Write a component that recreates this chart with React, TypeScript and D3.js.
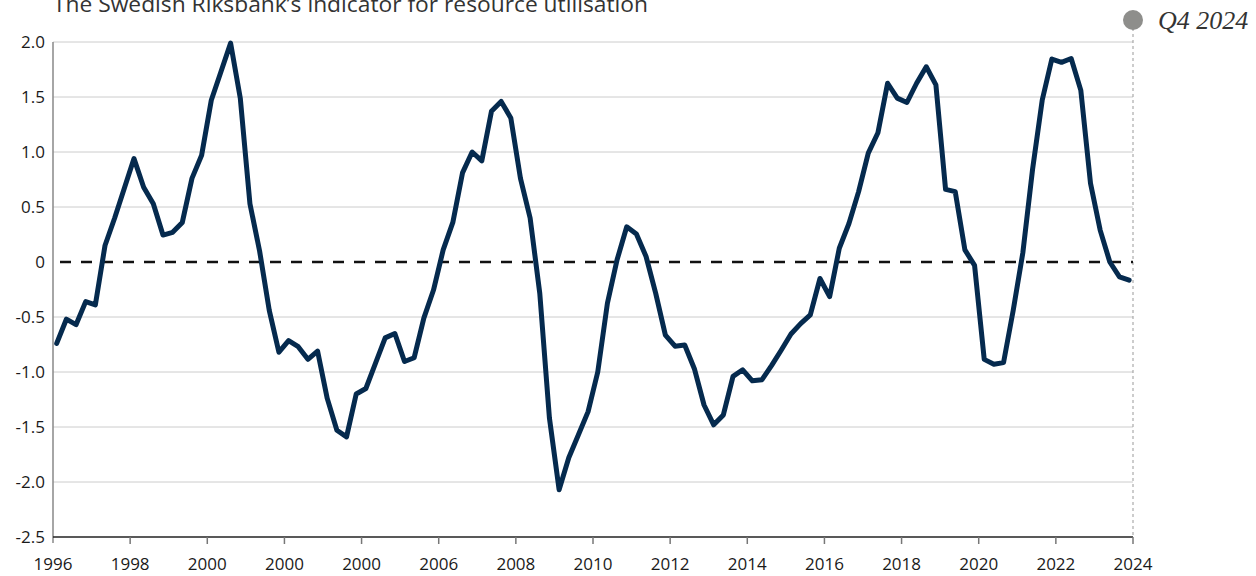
import React, { useEffect, useRef } from "react";
import * as d3 from "d3";

const TITLE = "The Swedish Riksbank’s indicator for resource utilisation";
const MARKER_LABEL = "Q4 2024";

// Quarterly values, first quarter 1996 onwards
const values: number[] = [
  -0.74, -0.52, -0.57, -0.36, -0.39, 0.15, 0.4, 0.67, 0.94, 0.68,
  0.53, 0.245, 0.27, 0.36, 0.76, 0.97, 1.47, 1.73, 1.99, 1.49,
  0.53, 0.1, -0.44, -0.82, -0.715, -0.77, -0.885, -0.81, -1.24, -1.53,
  -1.59, -1.2, -1.15, -0.92, -0.69, -0.65, -0.905, -0.87, -0.51, -0.255,
  0.11, 0.36, 0.81, 1.0, 0.92, 1.37, 1.46, 1.31, 0.76, 0.4,
  -0.285, -1.42, -2.07, -1.78, -1.57, -1.36, -1.0, -0.375, 0.02, 0.32,
  0.255, 0.05, -0.285, -0.665, -0.765, -0.755, -0.97, -1.3, -1.48, -1.39,
  -1.04, -0.98, -1.08, -1.07, -0.94, -0.8, -0.655, -0.56, -0.48, -0.15,
  -0.315, 0.125, 0.35, 0.64, 0.99, 1.175, 1.625, 1.49, 1.45, 1.625,
  1.775, 1.61, 0.66, 0.64, 0.11, -0.03, -0.885, -0.93, -0.915, -0.44,
  0.085, 0.84, 1.47, 1.845, 1.815, 1.85, 1.56, 0.715, 0.29, 0.0,
  -0.135, -0.165,
];

const xTickYears = [1996, 1998, 2000, 2002, 2004, 2006, 2008, 2010, 2012, 2014, 2016, 2018, 2020, 2022, 2024];
const xTickLabels = ["1996", "1998", "2000", "2000", "2000", "2006", "2008", "2010", "2012", "2014", "2016", "2018", "2020", "2022", "2024"];
const yTicks = [2.0, 1.5, 1.0, 0.5, 0, -0.5, -1.0, -1.5, -2.0, -2.5];
const yTickLabels = ["2.0", "1.5", "1.0", "0.5", "0", "-0.5", "-1.0", "-1.5", "-2.0", "-2.5"];

const W = 1256;
const H = 576;
const M = { left: 53, right: 1133, top: 42, bottom: 537 };
const FONT = "'Open Sans', 'Noto Sans', sans-serif";

export default function App() {
  const ref = useRef<SVGSVGElement | null>(null);

  useEffect(() => {
    const svg = d3.select(ref.current);
    svg.selectAll("*").remove();

    const x = d3.scaleLinear().domain([1996, 2024]).range([M.left, M.right]);
    const y = d3.scaleLinear().domain([-2.5, 2.0]).range([M.bottom, M.top]);
    const xi = d3
      .scaleLinear()
      .domain([0, values.length - 1])
      .range([x(1996.096), x(2023.9)]);

    // title
    svg
      .append("text")
      .attr("x", M.left)
      .attr("y", 12)
      .attr("font-family", FONT)
      .attr("font-size", 21)
      .attr("fill", "#333")
      .attr("textLength", 595)
      .attr("lengthAdjust", "spacingAndGlyphs")
      .text(TITLE);

    // gridlines
    svg
      .append("g")
      .selectAll("line")
      .data(yTicks.filter((t) => t !== 0 && t !== -2.5))
      .join("line")
      .attr("x1", M.left)
      .attr("x2", M.right)
      .attr("y1", (d) => y(d))
      .attr("y2", (d) => y(d))
      .attr("stroke", "#cccccc")
      .attr("stroke-width", 1);

    // vertical dashed marker line
    svg
      .append("line")
      .attr("x1", x(2024))
      .attr("x2", x(2024))
      .attr("y1", 28)
      .attr("y2", M.bottom)
      .attr("stroke", "#999")
      .attr("stroke-width", 1)
      .attr("stroke-dasharray", "3,3");

    // marker circle + label
    svg
      .append("circle")
      .attr("cx", x(2024))
      .attr("cy", 20)
      .attr("r", 10)
      .attr("fill", "#8e8e8b");
    svg
      .append("text")
      .attr("x", 1158)
      .attr("y", 29)
      .attr("font-family", "'Liberation Serif', 'DejaVu Serif', serif")
      .attr("font-style", "italic")
      .attr("font-size", 26)
      .attr("fill", "#333")
      .text(MARKER_LABEL);

    // y axis line
    svg
      .append("line")
      .attr("x1", M.left)
      .attr("x2", M.left)
      .attr("y1", M.top)
      .attr("y2", M.bottom + 6)
      .attr("stroke", "#888")
      .attr("stroke-width", 1.5);

    // y tick labels
    svg
      .append("g")
      .selectAll("text")
      .data(yTicks)
      .join("text")
      .attr("x", 45)
      .attr("y", (d) => y(d))
      .attr("dy", "0.35em")
      .attr("text-anchor", "end")
      .attr("font-family", FONT)
      .attr("font-size", 17)
      .attr("fill", "#1a1a1a")
      .text((_, i) => yTickLabels[i]);

    // zero line
    svg
      .append("line")
      .attr("x1", M.left + 7)
      .attr("x2", M.right)
      .attr("y1", y(0))
      .attr("y2", y(0))
      .attr("stroke", "#111")
      .attr("stroke-width", 2.5)
      .attr("stroke-dasharray", "11,10");

    // x axis
    svg
      .append("line")
      .attr("x1", M.left)
      .attr("x2", M.right)
      .attr("y1", M.bottom)
      .attr("y2", M.bottom)
      .attr("stroke", "#222")
      .attr("stroke-width", 1.5);

    svg
      .append("g")
      .selectAll("line")
      .data(xTickYears.slice(1))
      .join("line")
      .attr("x1", (d) => x(d))
      .attr("x2", (d) => x(d))
      .attr("y1", M.bottom)
      .attr("y2", M.bottom + 7)
      .attr("stroke", "#777")
      .attr("stroke-width", 1.5);

    svg
      .append("g")
      .selectAll("text")
      .data(xTickYears)
      .join("text")
      .attr("x", (d) => x(d))
      .attr("y", 570)
      .attr("text-anchor", "middle")
      .attr("font-family", FONT)
      .attr("font-size", 17)
      .attr("fill", "#1a1a1a")
      .text((_, i) => xTickLabels[i]);

    // line
    const line = d3
      .line<number>()
      .x((_, i) => xi(i))
      .y((d) => y(d));

    svg
      .append("path")
      .datum(values)
      .attr("d", line)
      .attr("fill", "none")
      .attr("stroke", "#052a4e")
      .attr("stroke-width", 5)
      .attr("stroke-linejoin", "round")
      .attr("stroke-linecap", "round");
  }, []);

  return (
    <svg
      ref={ref}
      width={W}
      height={H}
      style={{ position: "absolute", left: 0, top: 0, background: "#fff" }}
    />
  );
}
